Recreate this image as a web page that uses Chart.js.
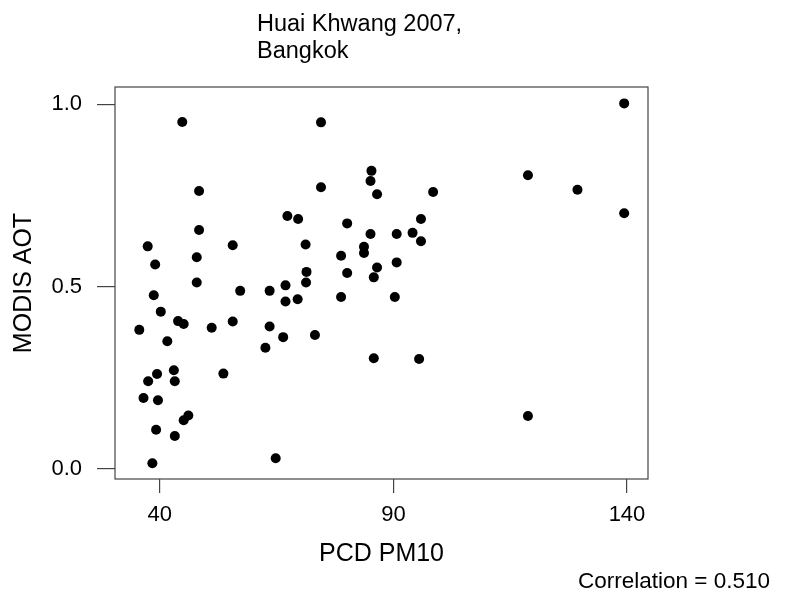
<!DOCTYPE html>
<html>
<head>
<meta charset="utf-8">
<script src="https://cdn.jsdelivr.net/npm/chart.js@4/dist/chart.umd.min.js"></script>
<style>
  html, body { margin: 0; padding: 0; background: #fff; }
  #wrap { width: 788px; height: 595px; }
</style>
</head>
<body>
<div id="wrap"><canvas id="myChart" width="788" height="595"></canvas></div>
<script>
// PCD PM10 (x) against MODIS AOT (y)
const pm10 = [44.8, 74.5, 48.4, 74.5, 67.3, 69.6, 80.1, 48.4, 37.4, 55.6,
  71.2, 47.9, 78.8, 39.0, 71.4, 80.1, 47.9, 71.3, 38.7, 57.2,
  63.5, 66.9, 66.9, 69.5, 78.8, 40.2, 43.9, 45.1, 35.6, 51.1,
  55.6, 63.5, 66.4, 73.2, 41.6, 62.6, 43.0, 39.4, 37.5, 43.2,
  53.6, 36.5, 39.6, 46.1, 45.1, 39.2, 43.2, 64.8, 38.4, 139.4,
  85.3, 85.1, 86.5, 98.5, 118.8, 129.4, 139.4, 95.9, 85.1, 90.7,
  94.1, 95.9, 83.7, 83.7, 90.7, 86.5, 85.8, 90.3, 85.8, 95.5, 118.8];
const aot = [0.951, 0.950, 0.762, 0.772, 0.693, 0.685, 0.673, 0.655, 0.610, 0.613,
  0.615, 0.580, 0.584, 0.560, 0.540, 0.537, 0.511, 0.511, 0.476, 0.488,
  0.488, 0.503, 0.459, 0.465, 0.471, 0.431, 0.405, 0.397, 0.381, 0.387,
  0.404, 0.390, 0.361, 0.367, 0.350, 0.332, 0.270, 0.260, 0.240, 0.240,
  0.261, 0.194, 0.188, 0.146, 0.133, 0.107, 0.090, 0.029, 0.015, 1.002,
  0.817, 0.789, 0.753, 0.759, 0.805, 0.765, 0.701, 0.685, 0.644, 0.644,
  0.647, 0.624, 0.609, 0.592, 0.566, 0.552, 0.525, 0.471, 0.303, 0.301, 0.145];
const xTicks = [40, 90, 140];
const yTicks = [0, 0.5, 1.0];
const titleLines = ['Huai Khwang 2007,', 'Bangkok'];
const corrText = 'Correlation = 0.510';

const FONT = '"Liberation Sans", Arial, sans-serif';
const points = pm10.map((v, i) => ({x: v, y: aot[i]}));

// box around plot + title + correlation note
const extras = {
  id: 'extras',
  afterDraw(chart) {
    const {ctx, chartArea: a} = chart;
    ctx.save();
    ctx.strokeStyle = '#444';
    ctx.lineWidth = 1.2;
    ctx.strokeRect(a.left, a.top, a.right - a.left, a.bottom - a.top);
    ctx.fillStyle = '#000';
    ctx.font = '23.5px ' + FONT;
    ctx.textBaseline = 'middle';
    ctx.textAlign = 'left';
    ctx.fillText(titleLines[0], 257, 25);
    ctx.fillText(titleLines[1], 257, 52);
    ctx.font = '22.5px ' + FONT;
    ctx.textAlign = 'right';
    ctx.fillText(corrText, 770, 582);
    ctx.restore();
  }
};

const config = {
  type: 'scatter',
  data: {
    datasets: [{
      data: points,
      backgroundColor: '#000',
      borderWidth: 0,
      pointRadius: 5,
      pointHoverRadius: 5
    }]
  },
  options: {
    responsive: false,
    animation: false,
    layout: { padding: { top: 87, right: 140, left: 0, bottom: 0 } },
    plugins: { legend: { display: false }, tooltip: { enabled: false } },
    scales: {
      x: {
        type: 'linear',
        min: 30.4,
        max: 144.5,
        afterBuildTicks: s => { s.ticks = xTicks.map(v => ({value: v})); },
        afterFit: s => { s.height = 116; },
        grid: { drawOnChartArea: false, drawTicks: true, tickLength: 14, color: '#444', lineWidth: 1.2 },
        border: { display: false },
        ticks: { color: '#000', padding: 9, font: { family: FONT, size: 22 }, callback: v => String(v) },
        title: { display: true, text: 'PCD PM10', color: '#000', font: { family: FONT, size: 25 }, padding: { top: 0, bottom: 26 } }
      },
      y: {
        type: 'linear',
        min: -0.028,
        max: 1.047,
        afterBuildTicks: s => { s.ticks = yTicks.map(v => ({value: v})); },
        afterFit: s => { s.width = 115; },
        grid: { drawOnChartArea: false, drawTicks: true, tickLength: 18, color: '#444', lineWidth: 1.2 },
        border: { display: false },
        ticks: { color: '#000', padding: 15, font: { family: FONT, size: 22 }, callback: v => v.toFixed(1) },
        title: { display: true, text: 'MODIS AOT', color: '#000', font: { family: FONT, size: 25 }, padding: { top: 9, bottom: 0 } }
      }
    }
  },
  plugins: [extras]
};

new Chart(document.getElementById('myChart'), config);
</script>
</body>
</html>
